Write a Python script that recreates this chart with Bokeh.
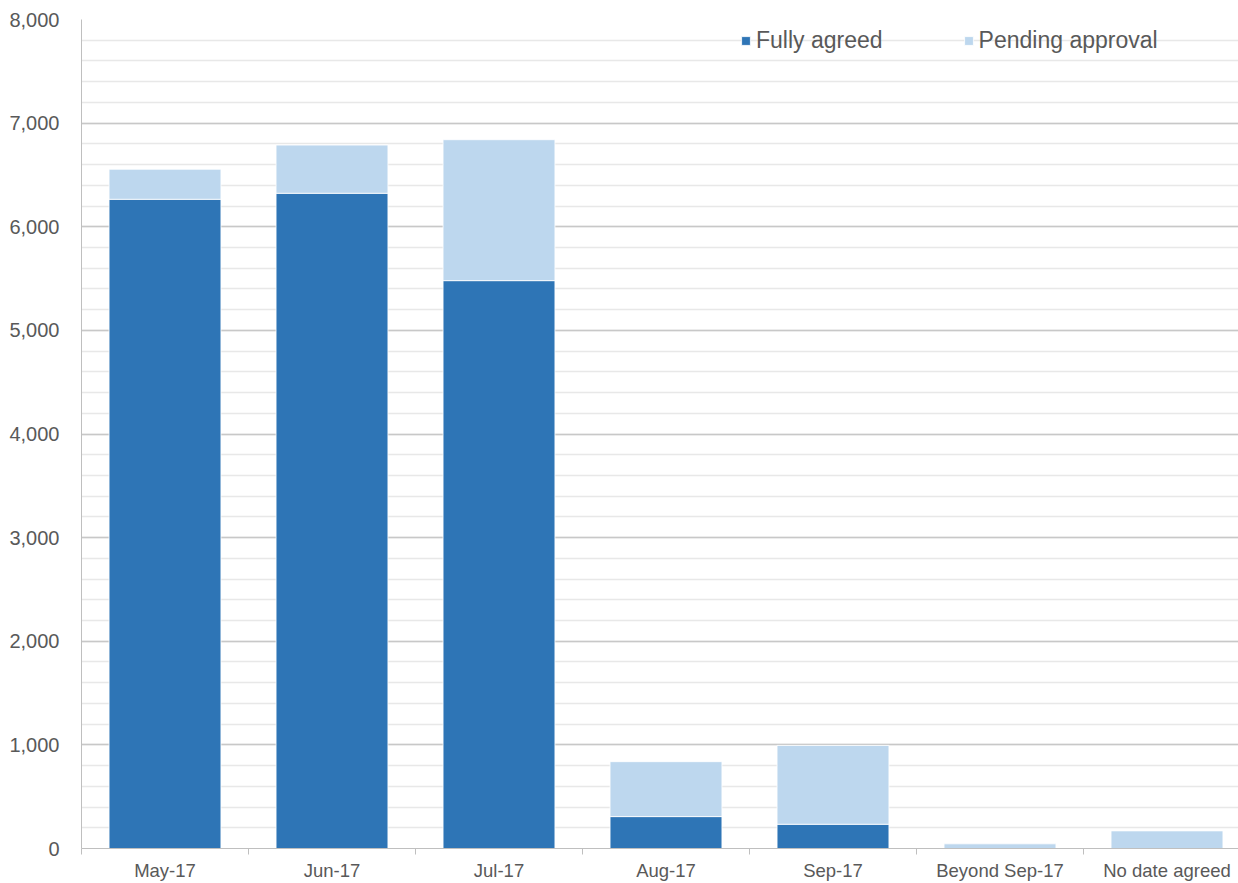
from bokeh.plotting import figure
from bokeh.models import (ColumnDataSource, FixedTicker, SingleIntervalTicker,
                          NumeralTickFormatter, Legend, LegendItem, Range1d)
from bokeh.embed import file_html
from bokeh.resources import INLINE

categories = ["May-17", "Jun-17", "Jul-17", "Aug-17", "Sep-17",
              "Beyond Sep-17", "No date agreed"]
fully_agreed = [6265, 6323, 5480, 308, 234, 0, 0]
pending_approval = [290, 465, 1360, 530, 761, 45, 170]
series_names = ["Fully agreed", "Pending approval"]
colors = ["#2E75B6", "#BDD7EE"]

x_centers = [i + 0.5 for i in range(len(categories))]
boundaries = [i for i in range(len(categories) + 1)]

source = ColumnDataSource(dict(x=x_centers, fully=fully_agreed,
                               pending=pending_approval))

FONT = "Liberation Sans"
TXT = "#595959"
AX = "#bfbfbf"

p = figure(width=1238, height=883, output_backend="svg", toolbar_location=None,
           x_range=Range1d(0, 1157 / 167), y_range=Range1d(0, 8000),
           min_border_left=81, min_border_right=0, min_border_top=19,
           min_border_bottom=34)
p.outline_line_color = None
p.background_fill_color = "white"
p.border_fill_color = "white"

renderers = p.vbar_stack(["fully", "pending"], x="x", width=0.67, source=source,
                         fill_color=colors, line_color="white", line_width=0.8)

# y axis
p.yaxis.ticker = SingleIntervalTicker(interval=1000, num_minor_ticks=5)
p.yaxis.formatter = NumeralTickFormatter(format="0,0")
p.yaxis.major_tick_line_color = None
p.yaxis.minor_tick_line_color = None
p.yaxis.major_tick_out = 0
p.yaxis.major_tick_in = 0
p.yaxis.minor_tick_out = 0
p.yaxis.major_label_standoff = 22
p.yaxis.axis_line_color = AX
p.yaxis.major_label_text_font = FONT
p.yaxis.major_label_text_font_size = "20px"
p.yaxis.major_label_text_color = TXT

# x axis
p.xaxis.ticker = FixedTicker(ticks=x_centers, minor_ticks=boundaries)
p.xaxis.major_label_overrides = {x: c for x, c in zip(x_centers, categories)}
p.xaxis.major_tick_line_color = None
p.xaxis.major_tick_out = 0
p.xaxis.major_tick_in = 0
p.xaxis.minor_tick_line_color = AX
p.xaxis.minor_tick_out = 6
p.xaxis.minor_tick_in = 0
p.xaxis.axis_line_color = AX
p.xaxis.major_label_standoff = 5
p.xaxis.major_label_text_font = FONT
p.xaxis.major_label_text_font_size = "18.5px"
p.xaxis.major_label_text_color = TXT

# grids
p.xgrid.grid_line_color = None
p.ygrid.grid_line_color = "#c8c8c8"
p.ygrid.grid_line_width = 1.3
p.ygrid.minor_grid_line_color = "#e8e8e8"
p.ygrid.minor_grid_line_width = 1.3

legend = Legend(items=[LegendItem(label=n, renderers=[r])
                       for n, r in zip(series_names, renderers)],
                orientation="horizontal", location=(659, 794),
                glyph_width=11, glyph_height=11, label_standoff=5, spacing=80,
                padding=0, margin=0, border_line_color=None,
                background_fill_alpha=0,
                label_text_font=FONT, label_text_font_size="23px",
                label_text_color=TXT)
p.add_layout(legend, "center")

open("out.html", "w").write(file_html(p, INLINE))
